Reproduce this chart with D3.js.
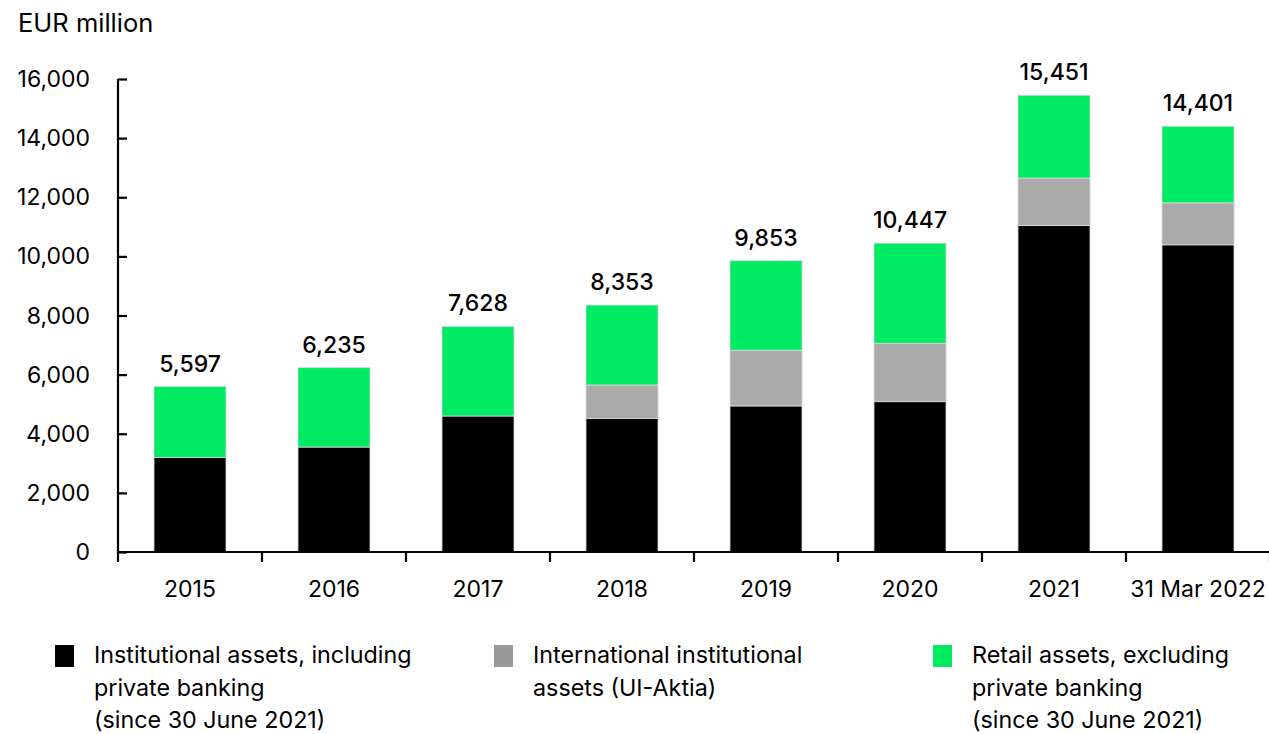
<!DOCTYPE html>
<html>
<head>
<meta charset="utf-8">
<script src="https://cdn.jsdelivr.net/npm/d3@7"></script>
<style>
  body { margin: 0; background: #fff; }
  text { font-family: Inter, "Noto Sans", sans-serif; fill: #000; }
</style>
</head>
<body>
<script>
const width = 1269;
const height = 734;
const margin = { left: 118, right: -1, top: 79, bottom: 182 };

const categories = ["2015", "2016", "2017", "2018", "2019", "2020", "2021", "31 Mar 2022"];
const institutional = [3200, 3550, 4600, 4520, 4940, 5085, 11040, 10390];
const international = [0, 0, 0, 1130, 1885, 1975, 1610, 1420];
const retail = [2397, 2685, 3028, 2703, 3028, 3387, 2801, 2591];
const totals = [5597, 6235, 7628, 8353, 9853, 10447, 15451, 14401];
const yTicks = [0, 2000, 4000, 6000, 8000, 10000, 12000, 14000, 16000];

const seriesKeys = ["institutional", "international", "retail"];
const colors = { institutional: "#000000", international: "#aaaaaa", retail: "#00eb64" };
const legendColors = { institutional: "#000000", international: "#999999", retail: "#00eb64" };
const legendLabels = {
  institutional: ["Institutional assets, including", "private banking", "(since 30 June 2021)"],
  international: ["International institutional", "assets (UI-Aktia)"],
  retail: ["Retail assets, excluding", "private banking", "(since 30 June 2021)"]
};

const rows = categories.map((c, i) => ({
  category: c,
  institutional: institutional[i],
  international: international[i],
  retail: retail[i],
  total: totals[i]
}));

const svg = d3.select("body")
  .append("svg")
  .attr("width", width)
  .attr("height", height);

const x = d3.scaleBand()
  .domain(categories)
  .range([margin.left, width - margin.right])
  .paddingInner(0.5)
  .paddingOuter(0.25);

const y = d3.scaleLinear()
  .domain([0, 16000])
  .range([height - margin.bottom, margin.top]);

const stacked = d3.stack().keys(seriesKeys)(rows);

svg.append("g")
  .selectAll("g")
  .data(stacked)
  .join("g")
  .attr("fill", d => colors[d.key])
  .selectAll("rect")
  .data(d => d.filter(p => p[1] > p[0]))
  .join("rect")
  .attr("x", d => x(d.data.category))
  .attr("width", x.bandwidth())
  .attr("y", d => y(d[1]))
  .attr("height", d => y(d[0]) - y(d[1]))
  .attr("stroke", "#d8d8d8")
  .attr("stroke-width", 0.8);

// y axis
const yAxis = svg.append("g")
  .attr("transform", `translate(${margin.left},0)`)
  .call(d3.axisRight(y).tickValues(yTicks).tickSize(9).tickFormat(""));
yAxis.select(".domain").attr("stroke", "#000").attr("stroke-width", 2.2).attr("d", `M0,${y(16000)}V${y(0)}`);
yAxis.selectAll(".tick line").attr("stroke", "#000").attr("stroke-width", 2.2);

svg.append("g")
  .selectAll("text")
  .data(yTicks)
  .join("text")
  .attr("x", 90)
  .attr("y", d => y(d))
  .attr("dy", "0.35em")
  .attr("text-anchor", "end")
  .style("font-size", "23px")
  .text(d => d3.format(",")(d));

// x axis
const step = x.step();
const boundaries = d3.range(categories.length + 1).map(i => margin.left + i * step);
svg.append("line")
  .attr("x1", margin.left)
  .attr("x2", width)
  .attr("y1", y(0))
  .attr("y2", y(0))
  .attr("stroke", "#000")
  .attr("stroke-width", 2.2);
svg.append("g")
  .selectAll("line")
  .data(boundaries)
  .join("line")
  .attr("x1", d => d)
  .attr("x2", d => d)
  .attr("y1", y(0))
  .attr("y2", y(0) + 10)
  .attr("stroke", "#000")
  .attr("stroke-width", 2.2);

svg.append("g")
  .selectAll("text")
  .data(categories)
  .join("text")
  .attr("x", d => x(d) + x.bandwidth() / 2)
  .attr("y", 597)
  .attr("text-anchor", "middle")
  .style("font-size", "23px")
  .text(d => d);

// totals
svg.append("g")
  .selectAll("text")
  .data(rows)
  .join("text")
  .attr("x", d => x(d.category) + x.bandwidth() / 2)
  .attr("y", d => y(d.total) - 15)
  .attr("text-anchor", "middle")
  .style("font-size", "23px")
  .style("font-weight", 500)
  .text(d => d3.format(",")(d.total));

// unit label
svg.append("text")
  .attr("x", 18)
  .attr("y", 32)
  .style("font-size", "25.5px")
  .text("EUR million");

// legend
const legendX = [55, 494, 933];
const legend = svg.append("g")
  .selectAll("g")
  .data(seriesKeys)
  .join("g")
  .attr("transform", (d, i) => `translate(${legendX[i]},645)`);
legend.append("rect")
  .attr("width", 19)
  .attr("height", 22)
  .attr("fill", d => legendColors[d]);
legend.append("text")
  .attr("x", 38)
  .style("font-size", "23.3px")
  .selectAll("tspan")
  .data(d => legendLabels[d])
  .join("tspan")
  .attr("x", 39)
  .attr("y", (d, i) => 18 + i * 32.5)
  .text(d => d);
</script>
</body>
</html>
